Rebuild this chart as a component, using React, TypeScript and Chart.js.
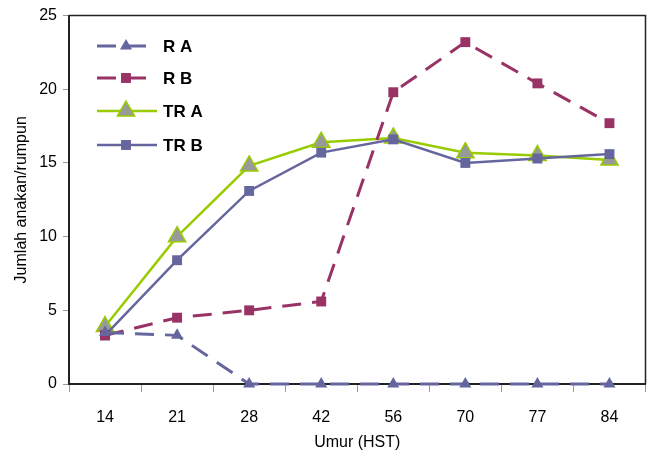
import React, { useEffect, useRef } from "react";
import { Chart, registerables } from "chart.js";

Chart.register(...registerables);

const categories = ["14", "21", "28", "42", "56", "70", "77", "84"];
const seriesRA = [3.5, 3.3, 0, 0, 0, 0, 0, 0];
const seriesRB = [3.3, 4.5, 5.0, 5.6, 19.8, 23.2, 20.4, 17.7];
const seriesTRA = [3.9, 10.0, 14.8, 16.4, 16.7, 15.7, 15.5, 15.2];
const seriesTRB = [3.3, 8.4, 13.1, 15.7, 16.6, 15.0, 15.3, 15.6];
const yTicks = [0, 5, 10, 15, 20, 25];

const PURPLE = "#66669e";
const MAROON = "#993366";
const GREEN = "#99cc00";
const GRAY = "#999999";
const FONT = "'Liberation Sans', Arial, sans-serif";

function drawMarker(ctx: CanvasRenderingContext2D, style: string, x: number, y: number, r: number, fill: string, stroke: string, lw: number) {
  ctx.save();
  ctx.setLineDash([]);
  ctx.fillStyle = fill;
  ctx.strokeStyle = stroke;
  ctx.lineWidth = lw;
  ctx.beginPath();
  if (style === "triangle") {
    const c = Math.cos(Math.PI / 6) * r;
    ctx.moveTo(x, y - r);
    ctx.lineTo(x + c, y + r / 2);
    ctx.lineTo(x - c, y + r / 2);
    ctx.closePath();
  } else {
    const s = r * Math.SQRT1_2;
    ctx.rect(x - s, y - s, 2 * s, 2 * s);
  }
  ctx.fill();
  if (lw > 0) ctx.stroke();
  ctx.restore();
}

const legendPlugin = {
  id: "customLegend",
  afterDraw(chart: any) {
    const ctx = chart.ctx as CanvasRenderingContext2D;
    const { left, top, right, bottom } = chart.chartArea;
    ctx.save();
    ctx.strokeStyle = "#222";
    ctx.lineWidth = 1.5;
    ctx.beginPath();
    ctx.moveTo(left, top);
    ctx.lineTo(right, top);
    ctx.lineTo(right, bottom);
    ctx.stroke();
    ctx.restore();

    const rows = [46, 78, 111, 145];
    chart.data.datasets.forEach((ds: any, i: number) => {
      const y = rows[i];
      const x0 = 97;
      const x1 = ds.legendEnd;
      ctx.save();
      ctx.strokeStyle = ds.borderColor;
      ctx.lineWidth = ds.borderWidth;
      ctx.setLineDash(ds.borderDash || []);
      ctx.beginPath();
      ctx.moveTo(x0, y);
      ctx.lineTo(x1, y);
      ctx.stroke();
      ctx.restore();
      drawMarker(ctx, ds.pointStyle, 126, y, ds.pointRadius, ds.pointBackgroundColor, ds.pointBorderColor, ds.pointBorderWidth);
      ctx.save();
      ctx.fillStyle = "#000";
      ctx.font = `bold 17px ${FONT}`;
      ctx.textBaseline = "middle";
      ctx.textAlign = "left";
      ctx.fillText(ds.label, 163, y + 1);
      ctx.restore();
    });
  },
};

export default function App() {
  const ref = useRef<HTMLCanvasElement>(null);
  useEffect(() => {
    document.body.style.margin = "0";
    const chart = new Chart(ref.current!, {
      type: "line",
      data: {
        labels: categories,
        datasets: [
          {
            label: "R A",
            data: seriesRA,
            order: 0,
            clip: false,
            borderColor: PURPLE,
            borderWidth: 3,
            borderDash: [19, 11],
            pointStyle: "triangle",
            pointRadius: 7,
            pointBackgroundColor: PURPLE,
            pointBorderColor: PURPLE,
            pointBorderWidth: 0,
            legendEnd: 151,
          } as any,
          {
            label: "R B",
            data: seriesRB,
            order: 0,
            clip: false,
            borderColor: MAROON,
            borderWidth: 3,
            borderDash: [19, 11],
            pointStyle: "rect",
            pointRadius: 7,
            pointBackgroundColor: MAROON,
            pointBorderColor: MAROON,
            pointBorderWidth: 0,
            legendEnd: 151,
          } as any,
          {
            label: "TR A",
            data: seriesTRA,
            order: 2,
            clip: false,
            borderColor: GREEN,
            borderWidth: 2.5,
            pointStyle: "triangle",
            pointRadius: 10,
            pointBackgroundColor: GRAY,
            pointBorderColor: GREEN,
            pointBorderWidth: 1.5,
            legendEnd: 157,
          } as any,
          {
            label: "TR B",
            data: seriesTRB,
            order: 1,
            clip: false,
            borderColor: PURPLE,
            borderWidth: 2.5,
            pointStyle: "rect",
            pointRadius: 7,
            pointBackgroundColor: PURPLE,
            pointBorderColor: PURPLE,
            pointBorderWidth: 0,
            legendEnd: 157,
          } as any,
        ],
      },
      options: {
        animation: false,
        responsive: false,
        maintainAspectRatio: false,
        layout: { padding: { left: 0, right: 4, top: 15, bottom: 0 } },
        plugins: {
          legend: { display: false },
          tooltip: { enabled: false },
        },
        elements: { line: { tension: 0 } },
        scales: {
          x: {
            type: "category",
            offset: true,
            grid: {
              offset: true,
              drawOnChartArea: false,
              drawTicks: true,
              tickLength: 8,
              color: "#999",
            },
            border: { display: true, color: "#222", width: 2 },
            ticks: {
              color: "#000",
              font: { family: FONT, size: 16 },
              padding: 16,
              maxRotation: 0,
            },
            title: {
              display: true,
              text: "Umur (HST)",
              color: "#000",
              font: { family: FONT, size: 16 },
              padding: { top: 0, bottom: 8 },
            },
            afterFit(scale: any) {
              scale.height = 76;
            },
          },
          y: {
            min: 0,
            max: 25,
            afterBuildTicks(scale: any) {
              scale.ticks = yTicks.map((v) => ({ value: v }));
            },
            grid: {
              drawOnChartArea: false,
              drawTicks: true,
              tickLength: 6,
              color: "#999",
            },
            border: { display: true, color: "#222", width: 2 },
            ticks: {
              color: "#000",
              font: { family: FONT, size: 16 },
              padding: 6,
            },
            title: {
              display: true,
              text: "Jumlah anakan/rumpun",
              color: "#000",
              font: { family: FONT, size: 16 },
              padding: { top: 12, bottom: 0 },
            },
            afterFit(scale: any) {
              scale.width = 69;
            },
          },
        },
      } as any,
      plugins: [legendPlugin],
    });
    return () => chart.destroy();
  }, []);
  return (
    <div style={{ position: "fixed", left: 0, top: 0, width: 657, height: 460 }}>
      <canvas ref={ref} width={657} height={460} style={{ width: 657, height: 460 }} />
    </div>
  );
}
